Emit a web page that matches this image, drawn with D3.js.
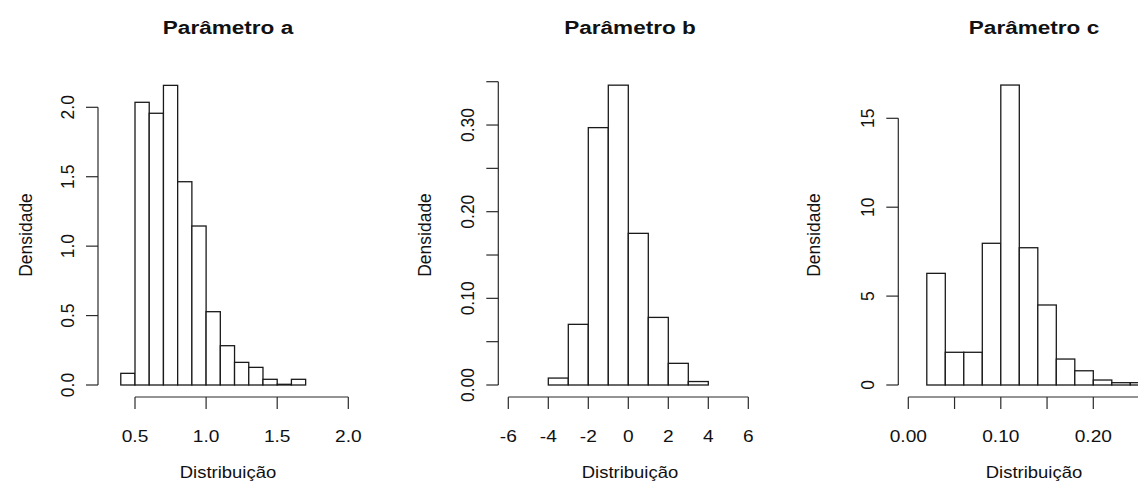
<!DOCTYPE html>
<html>
<head>
<meta charset="utf-8">
<script src="https://cdn.jsdelivr.net/npm/d3@7"></script>
<style>
  body { margin: 0; background: #fff; }
  text { font-family: "Liberation Sans", Arial, sans-serif; fill: #111; }
  .title { font-size: 18.5px; font-weight: bold; }
  .tick { font-size: 16.5px; }
  .vtick { font-size: 17.5px; }
  .label { font-size: 16.5px; }
  .vlabel { font-size: 17.5px; }
  .bar { fill: #fff; stroke: #1a1a1a; stroke-width: 1.3; }
  .axis-line { stroke: #2a2a2a; stroke-width: 1.2; fill: none; }
</style>
</head>
<body>
<svg width="1138" height="486"></svg>
<script>
// Parâmetro a
const breaksA = [0.4, 0.5, 0.6, 0.7, 0.8, 0.9, 1.0, 1.1, 1.2, 1.3, 1.4, 1.5, 1.6, 1.7]
const densA = [0.084, 2.036, 1.957, 2.158, 1.464, 1.145, 0.528, 0.283, 0.163, 0.127, 0.041, 0.005, 0.041]
const xTicksA = [0.5, 1.0, 1.5, 2.0]
const xLabelsA = ['0.5', '1.0', '1.5', '2.0']
const yTicksA = [0, 0.5, 1.0, 1.5, 2.0]
const yLabelsA = ['0.0', '0.5', '1.0', '1.5', '2.0']

// Parâmetro b
const breaksB = [-4, -3, -2, -1, 0, 1, 2, 3, 4]
const densB = [0.008, 0.070, 0.297, 0.346, 0.175, 0.078, 0.025, 0.004]
const xTicksB = [-6, -4, -2, 0, 2, 4, 6]
const xLabelsB = ['-6', '-4', '-2', '0', '2', '4', '6']
const yTicksB = [0, 0.05, 0.10, 0.15, 0.20, 0.25, 0.30, 0.35]
const yLabelsB = ['0.00', '', '0.10', '', '0.20', '', '0.30', '']

// Parâmetro c
const breaksC = [0.02, 0.04, 0.06, 0.08, 0.10, 0.12, 0.14, 0.16, 0.18, 0.20, 0.22, 0.24, 0.26]
const densC = [6.28, 1.84, 1.84, 7.97, 16.87, 7.72, 4.5, 1.46, 0.8, 0.28, 0.13, 0.13]
const xTicksC = [0, 0.05, 0.10, 0.15, 0.20, 0.25]
const xLabelsC = ['0.00', '', '0.10', '', '0.20', '']
const yTicksC = [0, 5, 10, 15]
const yLabelsC = ['0', '5', '10', '15']

const titles = ['Parâmetro a', 'Parâmetro b', 'Parâmetro c']

const svg = d3.select('svg')

const axisY = 397   // x axis line
const tickLen = 12
const stretch = { title: 1.22, tick: 1.16, label: 1.12 }

// layout per panel (pixel anchors of the outer ticks)
const panels = [
    { title: titles[0], breaks: breaksA, dens: densA, xTicks: xTicksA, xLabels: xLabelsA, yTicks: yTicksA, yLabels: yLabelsA,
      xDom: [0.5, 2.0], xRange: [135, 348.3], yDom: [0, 2.0], yRange: [385, 107.3], axisX: 98, center: 228, ylabX: 32 },
    { title: titles[1], breaks: breaksB, dens: densB, xTicks: xTicksB, xLabels: xLabelsB, yTicks: yTicksB, yLabels: yLabelsB,
      xDom: [-6, 6], xRange: [508.3, 748.3], yDom: [0, 0.35], yRange: [385, 81.7], axisX: 498.3, center: 630, ylabX: 431 },
    { title: titles[2], breaks: breaksC, dens: densC, xTicks: xTicksC, xLabels: xLabelsC, yTicks: yTicksC, yLabels: yLabelsC,
      xDom: [0, 0.20], xRange: [908.3, 1093.3], yDom: [0, 15], yRange: [385, 118.3], axisX: 898.3, center: 1034, ylabX: 820 }
]

function hText(g, x, y, str, cls, s) {
    g.append('text')
        .attr('class', cls)
        .attr('text-anchor', 'middle')
        .attr('transform', `translate(${x}, ${y}) scale(${s}, 1)`)
        .text(str)
}

function vText(g, x, y, str, cls) {
    g.append('text')
        .attr('class', cls)
        .attr('text-anchor', 'middle')
        .attr('transform', `translate(${x}, ${y}) rotate(-90)`)
        .text(str)
}

panels.forEach((p) => {
    const g = svg.append('g')

    const x = d3.scaleLinear().domain(p.xDom).range(p.xRange)
    const y = d3.scaleLinear().domain(p.yDom).range(p.yRange)

    const bins = p.dens.map((d, i) => ({ x0: p.breaks[i], x1: p.breaks[i + 1], d: d }))

    g.selectAll('.bar')
        .data(bins)
        .enter()
        .append('rect')
        .attr('class', 'bar')
        .attr('x', (b) => x(b.x0))
        .attr('y', (b) => y(b.d))
        .attr('width', (b) => x(b.x1) - x(b.x0))
        .attr('height', (b) => y(0) - y(b.d))

    // x axis, R style: line from first to last tick
    const xt = p.xTicks
    g.append('line').attr('class', 'axis-line')
        .attr('x1', x(xt[0])).attr('x2', x(xt[xt.length - 1]))
        .attr('y1', axisY).attr('y2', axisY)
    xt.forEach((t, i) => {
        g.append('line').attr('class', 'axis-line')
            .attr('x1', x(t)).attr('x2', x(t))
            .attr('y1', axisY).attr('y2', axisY + tickLen)
        if (p.xLabels[i]) hText(g, x(t), 442, p.xLabels[i], 'tick', stretch.tick)
    })

    // y axis
    const yt = p.yTicks
    g.append('line').attr('class', 'axis-line')
        .attr('x1', p.axisX).attr('x2', p.axisX)
        .attr('y1', y(yt[0])).attr('y2', y(yt[yt.length - 1]))
    yt.forEach((t, i) => {
        g.append('line').attr('class', 'axis-line')
            .attr('x1', p.axisX).attr('x2', p.axisX - tickLen)
            .attr('y1', y(t)).attr('y2', y(t))
        if (p.yLabels[i]) vText(g, p.axisX - 24.5, y(t), p.yLabels[i], 'vtick')
    })

    hText(g, p.center, 34, p.title, 'title', stretch.title)
    hText(g, p.center, 478, 'Distribuição', 'label', stretch.label)
    vText(g, p.ylabX, 235, 'Densidade', 'vlabel')
})
</script>
</body>
</html>
